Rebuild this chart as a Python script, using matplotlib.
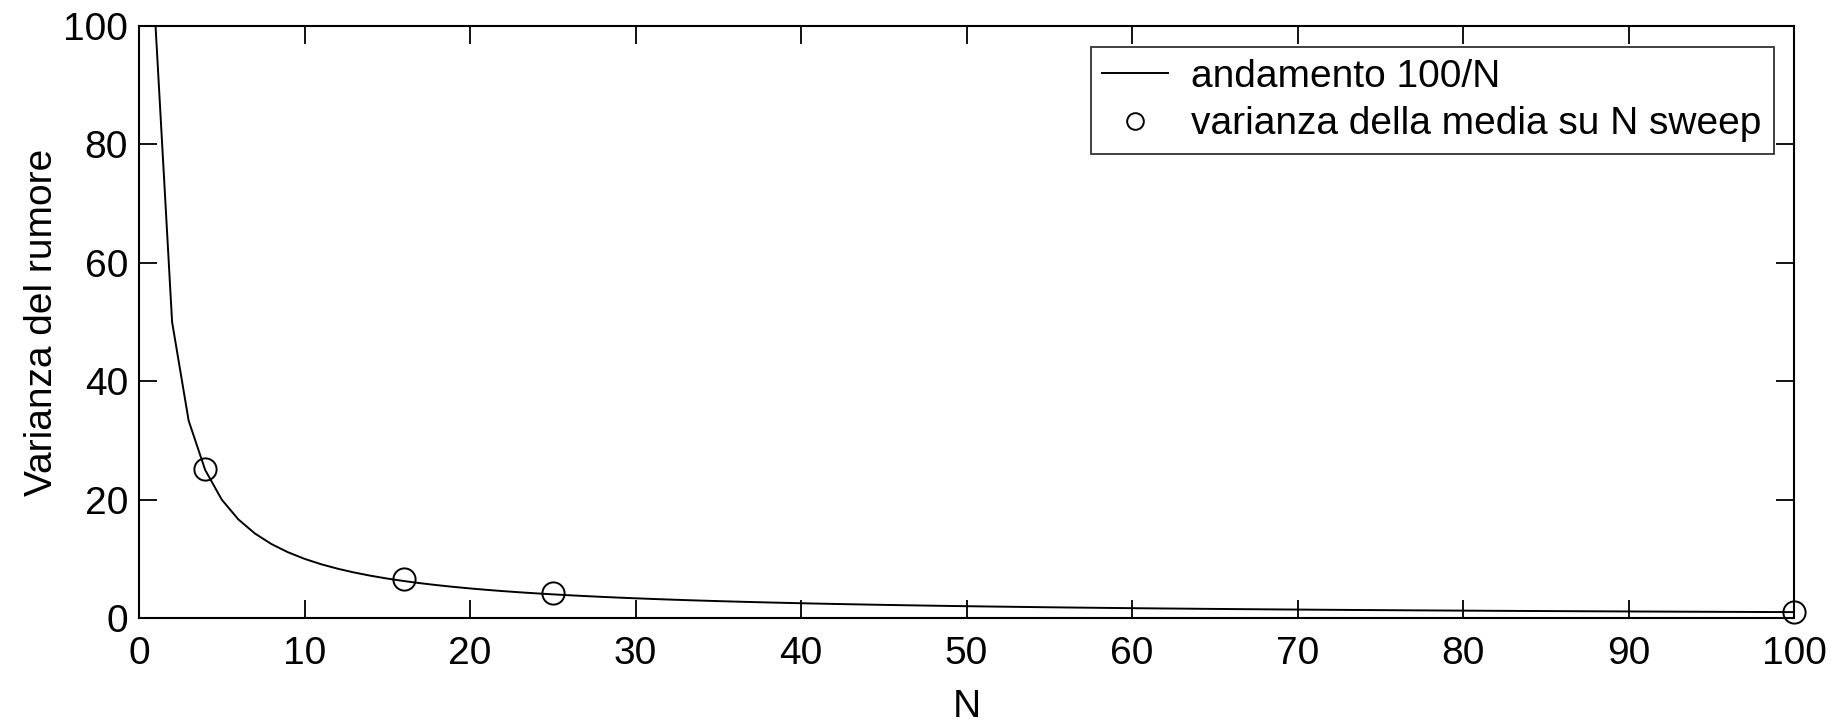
import numpy as np
import matplotlib
matplotlib.use("Agg")
import matplotlib.pyplot as plt

plt.rcParams['font.family'] = ['Liberation Sans', 'DejaVu Sans']

# Theoretical trend: variance of the mean decreases as 100/N
n_curve = np.arange(1, 101)
var_curve = 100.0 / n_curve

# Measured variance of the mean over N sweeps
n_meas = [4, 16, 25, 100]
var_meas = [25.2, 6.6, 4.2, 0.96]

fig = plt.figure(figsize=(18.41, 7.22), dpi=100)
ax = fig.add_axes([0.0755, 0.144, 0.899, 0.820])

ax.plot(n_curve, var_curve, color='black', linewidth=1.4, label='andamento 100/N')
ax.plot(n_meas, var_meas, linestyle='none', marker='o', markersize=16,
        markerfacecolor='none', markeredgecolor='black', markeredgewidth=1.4,
        clip_on=False, zorder=5, label='varianza della media su N sweep')

ax.set_xlim(0, 100)
ax.set_ylim(0, 100)
ax.set_xticks(np.arange(0, 101, 10))
ax.set_yticks(np.arange(0, 101, 20))

ax.tick_params(direction='in', length=13, width=1.3, labelsize=28,
               top=True, right=True, pad=8)
ax.tick_params(axis='x', pad=13)
for s in ax.spines.values():
    s.set_linewidth(1.5)

ax.set_xlabel('N', fontsize=28, labelpad=12)
ax.set_ylabel('Varianza del rumore', fontsize=28, labelpad=2)

leg = ax.legend(loc='upper left', bbox_to_anchor=(0.575, 0.794, 0.413, 0.1705),
                mode='expand', fontsize=28, frameon=True, fancybox=False,
                edgecolor='black', borderaxespad=0, handlelength=1.68,
                handletextpad=0.6, borderpad=0.3, labelspacing=0.3,
                markerscale=0.75)
leg.get_frame().set_linewidth(1.3)

fig.savefig('out.png', dpi=100, facecolor='white')
